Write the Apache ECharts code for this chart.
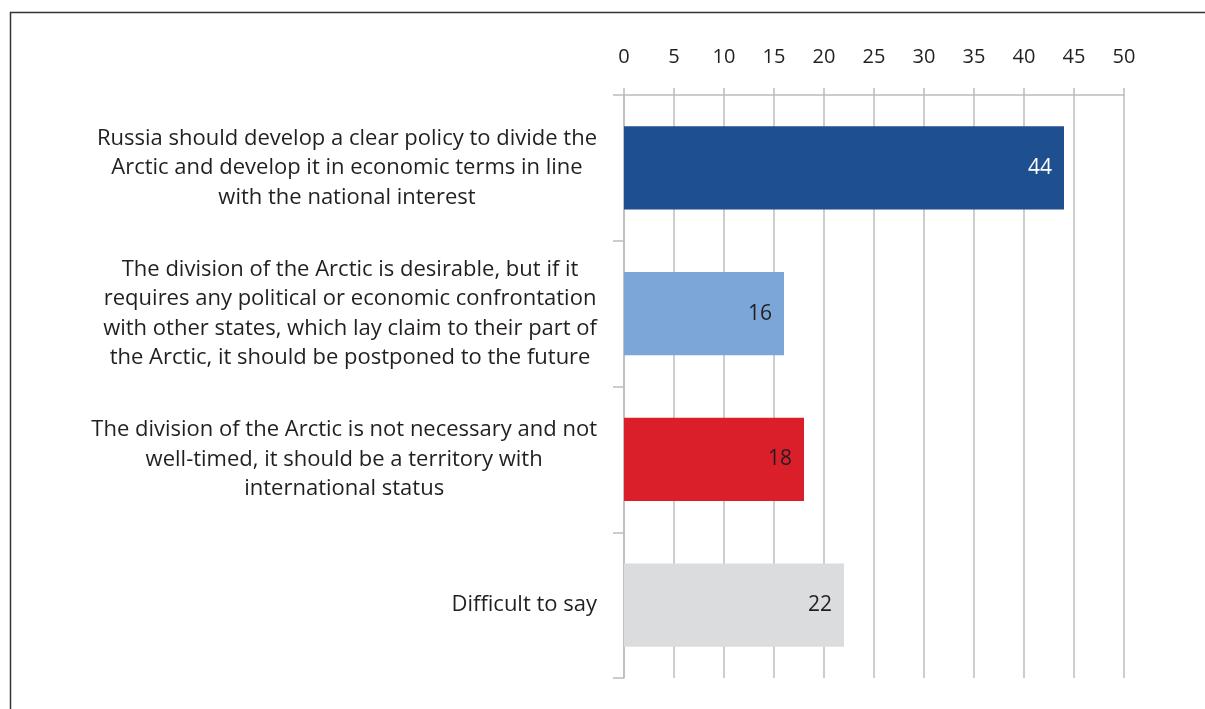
<!DOCTYPE html>
<html>
<head>
<meta charset="utf-8">
<script src="https://cdn.jsdelivr.net/npm/echarts@6/dist/echarts.min.js"></script>
<style>
html,body{margin:0;padding:0;background:#fff;}
#main{width:1205px;height:709px;}
</style>
</head>
<body>
<div id="main"></div>
<script>
const categories = [
  "Russia should develop a clear policy to divide the\nArctic and develop it in economic terms in line\nwith the national interest",
  "The division of the Arctic is desirable, but if it\nrequires any political or economic confrontation\nwith other states, which lay claim to their part of\nthe Arctic, it should be postponed to the future",
  "The division of the Arctic is not necessary and not\nwell-timed, it should be a territory with\ninternational status",
  "Difficult to say"
];
const values = [44, 16, 18, 22];
const barColors = ["#1e4f8e", "#7ba6d7", "#da1f2b", "#dbdcde"];
const valueLabelColors = ["#ffffff", "#231f20", "#231f20", "#231f20"];
const xTicks = [0, 5, 10, 15, 20, 25, 30, 35, 40, 45, 50];

const FONT = "Open Sans";
const chart = echarts.init(document.getElementById('main'));
const gridColor = "#bcbcbc";

chart.setOption({
  animation: false,
  textStyle: { fontFamily: FONT },
  grid: { left: 624, right: 81, top: 95, bottom: 31, containLabel: false },
  graphic: [
    { type: 'line', shape: { x1: 10, y1: 12.5, x2: 1205, y2: 12.5 }, style: { stroke: '#333', lineWidth: 1.5 } },
    { type: 'line', shape: { x1: 10.5, y1: 12, x2: 10.5, y2: 709 }, style: { stroke: '#333', lineWidth: 1.5 } }
  ],
  xAxis: {
    type: 'value',
    position: 'top',
    min: xTicks[0],
    max: xTicks[xTicks.length - 1],
    interval: xTicks[1] - xTicks[0],
    axisLine: { show: true, lineStyle: { color: gridColor, width: 1.5 } },
    axisTick: { show: true, length: 7, lineStyle: { color: gridColor, width: 1.5 } },
    splitLine: { show: true, lineStyle: { color: gridColor, width: 1.5 } },
    axisLabel: { color: '#231f20', fontSize: 20, fontFamily: FONT, margin: 28 }
  },
  yAxis: {
    type: 'category',
    inverse: true,
    data: categories,
    axisLine: { show: true, lineStyle: { color: gridColor, width: 1.5 } },
    axisTick: { show: true, length: 11, interval: 0, lineStyle: { color: gridColor, width: 1.5 } },
    axisLabel: {
      interval: 0,
      margin: 27,
      align: 'right',
      color: '#231f20',
      fontSize: 22,
      fontFamily: FONT,
      lineHeight: 29.5,
      formatter: function (v) {
        return v.split('\n').map(function (l) { return '{c|' + l + '}'; }).join('\n');
      },
      rich: {
        c: { align: 'center', fontSize: 22, fontFamily: FONT, lineHeight: 29.5, color: '#231f20' }
      }
    }
  },
  series: [{
    type: 'bar',
    barCategoryGap: '43%',
    data: values.map(function (v, i) {
      return {
        value: v,
        itemStyle: { color: barColors[i] },
        label: { color: valueLabelColors[i] }
      };
    }),
    label: {
      show: true,
      position: 'insideRight',
      distance: 12,
      fontSize: 21,
      fontFamily: FONT
    }
  }]
});
</script>
</body>
</html>
